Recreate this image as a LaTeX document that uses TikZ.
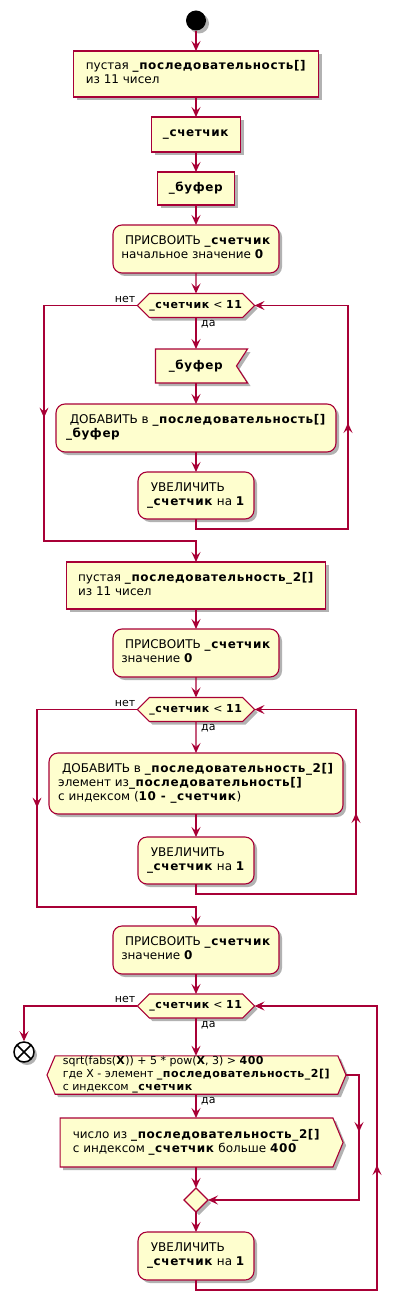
\documentclass[tikz,border=0pt]{standalone}
\usepackage{fontspec}
\setmainfont{DejaVu Sans}[BoldFeatures={LetterSpace=5}]
\usetikzlibrary{arrows.meta,positioning,shapes.geometric,shapes.symbols,shadows,decorations.markings}
\definecolor{umlRed}{HTML}{A80036}
\definecolor{umlFill}{HTML}{FEFECE}
\tikzset{
	box/.style={draw=umlRed, fill=umlFill, line width=1.1pt, outer sep=0, inner sep=0,
		drop shadow={shadow xshift=3pt, shadow yshift=-3pt, fill=black, opacity=0.3}},
	act/.style={box, rounded corners=9pt},
	cond/.style={box, shape=signal, signal to=west and east, signal pointer angle=#1,
		font=\fontsize{11}{12.8}\selectfont},
	recv/.style={box, shape=signal, signal to=nowhere, signal from=east, signal pointer angle=#1},
	sendbox/.style={box, shape=signal, signal to=east, signal pointer angle=#1},
	flow/.style={color=umlRed, line width=1.1pt, ->},
	lbl/.style={font=\fontsize{11}{13}\selectfont, inner sep=0},
	-v-/.style={decoration={
			markings,
			mark=at position #1 with {\arrow{>};}},postaction={decorate}}
}
\newcommand{\cntr}{\textbf{\_счетчик}}
\newcommand{\seqA}{\textbf{\_последовательность[]}}
\newcommand{\seqB}{\textbf{\_последовательность\_2[]}}

\begin{document}
\begin{tikzpicture}[x=1pt, y=-1pt, font=\fontsize{12}{14}\selectfont,
		>={Stealth[length=10pt,width=9pt,inset=4pt]}]
	\useasboundingbox (0,0) rectangle (401,1313);
	\node[circle, fill=black, minimum size=20pt, inner sep=0, drop shadow={shadow xshift=3pt, shadow yshift=-3pt, fill=black, opacity=0.3}] (start) at (196,20.5) {};
	\node[box, minimum width=245pt, minimum height=46pt] (seq) at (196,74) {\begin{tabular}{@{}l@{}} пустая \seqA\\ из 11 чисел\end{tabular}};
	\node[box, minimum width=89pt, minimum height=35pt] (cnt) at (196,134.5) {\cntr};
	\node[box, minimum width=77pt, minimum height=33pt] (buf) at (196,188.5) {\textbf{\_буфер}};
	\node[act, minimum width=166pt, minimum height=48pt] (init0) at (196,249) {\begin{tabular}{@{}l@{}} \ ПРИСВОИТЬ \cntr\\ начальное значение \textbf{0}\end{tabular}};
	
	% first loop
	\node[cond=90, minimum width=117pt, minimum height=24pt] (loopA) at (196,305.5) {\cntr{} < \textbf{11}};
	\node[recv=114, minimum width=92pt, minimum height=34pt] (take) at (196,366) {\textbf{\_буфер}};
	\node[act, minimum width=280pt, minimum height=48pt] (add) at (196,428) {\begin{tabular}{@{}l@{}} \ ДОБАВИТЬ в \seqA\\ \textbf{\_буфер}\end{tabular}};
	\node[act, minimum width=116pt, minimum height=47pt] (incA) at (196,495.5) {\begin{tabular}{@{}l@{}} \ УВЕЛИЧИТЬ\\ \cntr{} на \textbf{1}\end{tabular}};
	\node[lbl, anchor=east] (noA) at ([xshift=-2pt, yshift=6.5pt]loopA.west) {нет};
	\node[lbl, anchor=west] (yesA) at ([xshift=5pt, yshift=-7pt]loopA.south) {да};
	
	% second loop
	\node[box, minimum width=259pt, minimum height=47pt] (seq2) at (196,585.5) {\begin{tabular}{@{}l@{}} пустая \seqB\\ из 11 чисел\end{tabular}};
	\node[act, minimum width=166pt, minimum height=48pt] (init1) at (196,653) {\begin{tabular}{@{}l@{}} \ ПРИСВОИТЬ \cntr\\ значение \textbf{0}\end{tabular}};
	\node[cond=90, minimum width=117pt, minimum height=24pt] (loopB) at (196,709.5) {\cntr{} < \textbf{11}};
	\node[act, minimum width=294pt, minimum height=61pt] (copy) at (196,783.5) {\begin{tabular}{@{}l@{}} \ ДОБАВИТЬ в \seqB\\ элемент из\seqA\\ с индексом (\textbf{10 - \_счетчик})\end{tabular}};
	\node[act, minimum width=116pt, minimum height=47pt] (incB) at (196,860.5) {\begin{tabular}{@{}l@{}} \ УВЕЛИЧИТЬ\\ \cntr{} на \textbf{1}\end{tabular}};
	\node[lbl, anchor=east] (noB) at ([xshift=-2pt, yshift=6.5pt]loopB.west) {нет};
	\node[lbl, anchor=west] (yesB) at ([xshift=5pt, yshift=-7pt]loopB.south) {да};
	
	% third loop
	\node[act, minimum width=166pt, minimum height=48pt] (init2) at (196,950) {\begin{tabular}{@{}l@{}} \ ПРИСВОИТЬ \cntr\\ значение \textbf{0}\end{tabular}};
	\node[cond=90, minimum width=117pt, minimum height=24pt] (loopC) at (196,1006) {\cntr{} < \textbf{11}};
	\node[circle, draw=black, fill=white, line width=1.5pt, minimum size=20pt, inner sep=0,
		drop shadow={shadow xshift=3pt, shadow yshift=-3pt, fill=black, opacity=0.3},
		path picture={\draw[line width=1.5pt] (path picture bounding box.north west) -- (path picture bounding box.south east)
			(path picture bounding box.north east) -- (path picture bounding box.south west);}] (stop) at (24,1052) {};
	\node[cond=134, minimum width=299pt, minimum height=38pt] (test) at (196.5,1075) {\begin{tabular}{@{}l@{}}sqrt(fabs(\textbf{X})) + 5 * pow(\textbf{X}, 3) > \textbf{400}\\ где X - элемент \seqB\\ с индексом \cntr\end{tabular}};
	\node[sendbox=135, minimum width=283pt, minimum height=49pt] (note) at (196.5,1142.5) {\begin{tabular}{@{}l@{}}число из \seqB\\ с индексом \cntr{} больше \textbf{400}\end{tabular}};
	\node[diamond, box, minimum size=24pt] (merge) at (196,1200) {};
	\node[act, minimum width=116pt, minimum height=48pt] (incC) at (196,1256) {\begin{tabular}{@{}l@{}} \ УВЕЛИЧИТЬ\\ \cntr{} на \textbf{1}\end{tabular}};
	\node[lbl, anchor=east] (noC) at ([xshift=-2pt, yshift=6.5pt]loopC.west) {нет};
	\node[lbl, anchor=west] (yesC) at ([xshift=5pt, yshift=-7pt]loopC.south) {да};
	\node[lbl, anchor=west] (yesD) at ([xshift=5pt, yshift=-7pt]loopC.south |- test.south) {да};
	
	\draw[flow] (start) -- (seq);
	\draw[flow] (seq) -- (cnt);
	\draw[flow] (cnt) -- (buf);
	\draw[flow] (buf) -- (init0);
	\draw[flow] (init0) -- (loopA);
	\draw[flow] (loopA.south) -- (loopA.south |- take.north);
	\draw[flow] (loopA.south |- take.south) -- (add);
	\draw[flow] (add) -- (incA);
	\draw[flow, -v-=268pt] (incA.south) |- (348,529) |- (loopA.east);
	\draw[flow, -v-=205.5pt] (loopA.west) -| (44,541) -| (seq2.north);
	
	\draw[flow] (seq2) -- (init1);
	\draw[flow] (init1) -- (loopB);
	\draw[flow] (loopB) -- (copy);
	\draw[flow] (copy) -- (incB);
	\draw[flow, -v-=251pt] (incB.south) |- (356,894) |- (loopB.east);
	\draw[flow, -v-=198.5pt] (loopB.west) -| (37,907) -| (init2.north);
	
	\draw[flow] (init2) -- (loopC);
	\draw[flow] (loopC.west) -| (stop.north);
	\draw[flow] (loopC.south) -- (loopC.south |- test.north);
	\draw[flow] (loopC.south |- test.south) -- (loopC.south |- note.north);
	\draw[flow] (loopC.south |- note.south) -- (merge);
	\draw[flow, -v-=70pt] (test.east) -| (359,1200) -- (merge.east);
	\draw[flow] (merge) -- (incC);
	\draw[flow, -v-=316pt] (incC.south) |- (377,1290) |- (loopC.east);
\end{tikzpicture}
\end{document}
